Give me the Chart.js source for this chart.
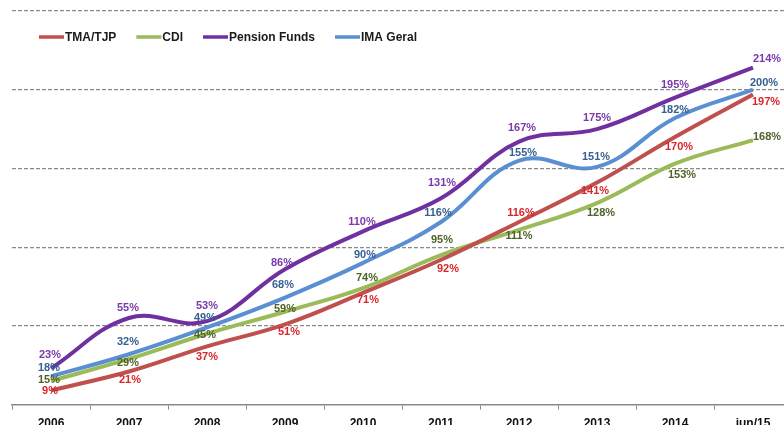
<!DOCTYPE html>
<html>
<head>
<meta charset="utf-8">
<script src="https://cdn.jsdelivr.net/npm/chart.js@4"></script>
<style>
    html, body { margin: 0; padding: 0; background: #fff; overflow: hidden; width: 784px; height: 425px; }
    #wrap { position: relative; width: 800px; height: 439px; }
</style>
</head>
<body>
<div id="wrap"><canvas id="growth-chart" width="800" height="439"></canvas></div>
<script>
const ctx = document.getElementById('growth-chart');

// categories (x axis)
const years = ['2006', '2007', '2008', '2009', '2010', '2011', '2012', '2013', '2014', 'iun/15'];

// accumulated return, %
const tma_tjp = [9, 21, 37, 51, 71, 92, 116, 141, 170, 197];
const cdi = [15, 29, 45, 59, 74, 95, 111, 128, 153, 168];
const pension_funds = [23, 55, 53, 86, 110, 131, 167, 175, 195, 214];
const ima_geral = [18, 32, 49, 68, 90, 116, 155, 151, 182, 200];

// where each value label sits, relative to its point (px)
const tmaLabelDx = [-1, 1, 0, 4, 5, 7, 2, -2, 4, 13];
const tmaLabelDy = [1, 8, 11, 8, 7, 9, -9, 8, 10, 8];
const cdiLabelDx = [-2, -1, -2, 0, 4, 1, 0, 4, 7, 14];
const cdiLabelDy = [-1, 4, 1, -3, -10, -15, 6, 10, 11, -3];
const penLabelDx = [-1, -1, 0, -3, -1, 1, 3, 0, 0, 14];
const penLabelDy = [-13, -10, -15, -6, -9, -15, -14, -11, -13, -9];
const imaLabelDx = [-2, -1, -2, -2, 2, -3, 4, -1, 0, 11];
const imaLabelDy = [-8, -12, -9, -13, -8, -9, -8, -10, -8, -7];

const FONT = "'Liberation Sans', Arial, sans-serif";

// --- value labels on every point ---
const valueLabels = {
    id: 'valueLabels',
    afterDatasetsDraw(chart) {
        const c = chart.ctx;
        c.save();
        c.font = 'bold 11px ' + FONT;
        c.textAlign = 'center';
        c.textBaseline = 'middle';
        chart.data.datasets.forEach((ds, di) => {
            const meta = chart.getDatasetMeta(di);
            c.fillStyle = ds.labelColor;
            meta.data.forEach((pt, i) => {
                c.fillText(ds.data[i] + '%', pt.x + ds.labelDx[i], pt.y + ds.labelDy[i]);
            });
        });
        c.restore();
    }
};

// --- legend drawn inside the plot, top left ---
const topLegend = {
    id: 'topLegend',
    afterDraw(chart) {
        const c = chart.ctx;
        c.save();
        c.font = 'bold 12px ' + FONT;
        c.textBaseline = 'middle';
        let x = 39;
        const y = 37;
        chart.data.datasets.forEach(ds => {
            c.strokeStyle = ds.borderColor;
            c.lineWidth = 3.5;
            c.beginPath();
            c.moveTo(x, y);
            c.lineTo(x + 25, y);
            c.stroke();
            c.fillStyle = '#1a1a1a';
            c.fillText(ds.label, x + 26, y + 0.5);
            x += 26 + c.measureText(ds.label).width + 20;
        });
        c.restore();
    }
};

function series(label, data, line, text, dx, dy) {
    return {
        label: label,
        data: data,
        borderColor: line,
        backgroundColor: line,
        borderWidth: 4,
        pointRadius: 0,
        tension: 0.4,
        borderCapStyle: 'butt',
        labelColor: text,
        labelDx: dx,
        labelDy: dy
    };
}

let growthChart = new Chart(ctx, {
    type: 'line',
    data: {
        labels: years,
        datasets: [
            series('TMA/TJP', tma_tjp, '#c0504d', '#d8262b', tmaLabelDx, tmaLabelDy),
            series('CDI', cdi, '#9bbb59', '#4f6228', cdiLabelDx, cdiLabelDy),
            series('Pension Funds', pension_funds, '#7030a0', '#7a3aaa', penLabelDx, penLabelDy),
            series('IMA Geral', ima_geral, '#5a8fd2', '#376092', imaLabelDx, imaLabelDy)
        ]
    },
    options: {
        responsive: false,
        animation: false,
        layout: {
            padding: { left: 12, top: 11, right: 8, bottom: 2 }
        },
        plugins: {
            legend: { display: false },
            tooltip: { enabled: false }
        },
        scales: {
            x: {
                offset: true,
                grid: {
                    offset: true,
                    drawOnChartArea: false,
                    tickLength: 5,
                    color: '#8a8a8a'
                },
                border: { color: '#8a8a8a', width: 1.5 },
                ticks: {
                    color: '#111',
                    padding: 6.5,
                    maxRotation: 0,
                    font: { family: FONT, size: 12, weight: 'bold' }
                }
            },
            y: {
                min: 0,
                max: 250,
                ticks: { display: false, stepSize: 50 },
                border: { display: false, dash: [4, 2] },
                grid: {
                    drawTicks: false,
                    lineWidth: 1.2,
                    // no dashed line at zero, the axis line is there
                    color: c => c.tick.value === 0 ? 'rgba(0,0,0,0)' : '#8a8a8a'
                }
            }
        }
    },
    plugins: [valueLabels, topLegend]
});
</script>
</body>
</html>
